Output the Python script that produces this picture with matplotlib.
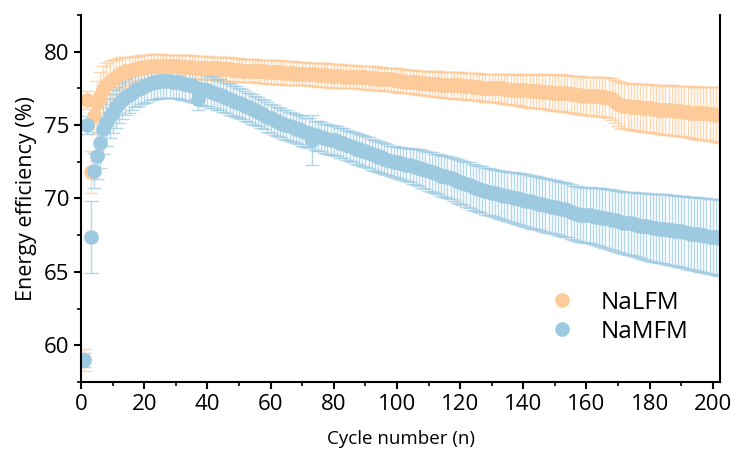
import numpy as np
import matplotlib
matplotlib.use("Agg")
import matplotlib.pyplot as plt
from matplotlib.ticker import MultipleLocator
from matplotlib.lines import Line2D

plt.rcParams['font.family'] = ['Open Sans', 'DejaVu Sans']

# cycle numbers
cycles = np.arange(1, 203)

# NaLFM energy efficiency (%) and error
nalfm = [
    59.0, 76.7, 71.8, 75.6, 76.5, 77.0, 77.4, 77.7, 77.95, 78.15,
    78.3, 78.45, 78.55, 78.65, 78.7, 78.75, 78.8, 78.85, 78.9, 78.95,
    78.95, 79.0, 79.0, 79.0, 79.0, 79.0, 79.0, 79.0, 79.0, 79.0,
    79.0, 78.95, 78.95, 78.95, 78.95, 78.9, 78.9, 78.9, 78.9, 78.9,
    78.85, 78.85, 78.85, 78.8, 78.8, 78.8, 78.8, 78.75, 78.75, 78.75,
    78.7, 78.7, 78.7, 78.7, 78.7, 78.65, 78.65, 78.65, 78.6, 78.6,
    78.6, 78.6, 78.6, 78.55, 78.55, 78.55, 78.55, 78.5, 78.5, 78.5,
    78.5, 78.45, 78.45, 78.45, 78.4, 78.4, 78.4, 78.4, 78.35, 78.35,
    78.35, 78.35, 78.3, 78.3, 78.3, 78.3, 78.3, 78.25, 78.25, 78.25,
    78.2, 78.2, 78.2, 78.15, 78.15, 78.1, 78.1, 78.1, 78.05, 78.05,
    78.0, 78.0, 77.95, 77.95, 77.9, 77.9, 77.85, 77.85, 77.85, 77.8,
    77.8, 77.8, 77.8, 77.75, 77.75, 77.75, 77.7, 77.7, 77.7, 77.7,
    77.65, 77.65, 77.65, 77.6, 77.6, 77.6, 77.55, 77.55, 77.55, 77.5,
    77.5, 77.5, 77.5, 77.45, 77.45, 77.4, 77.4, 77.4, 77.35, 77.35,
    77.35, 77.3, 77.3, 77.3, 77.3, 77.25, 77.25, 77.25, 77.2, 77.2,
    77.2, 77.2, 77.15, 77.15, 77.1, 77.1, 77.05, 77.05, 77.0, 77.0,
    77.0, 76.95, 76.95, 76.95, 76.9, 76.9, 76.85, 76.75, 76.6, 76.45,
    76.35, 76.3, 76.3, 76.25, 76.25, 76.2, 76.2, 76.15, 76.15, 76.15,
    76.1, 76.1, 76.05, 76.05, 76.0, 76.0, 76.0, 75.95, 75.95, 75.95,
    75.9, 75.9, 75.85, 75.85, 75.85, 75.8, 75.8, 75.8, 75.75, 75.75,
    75.7, 75.7,
]
nalfm_err = [
    0.75, 0.6, 1.4, 1.2, 1.5, 1.6, 1.6, 1.5, 1.4, 1.3,
    1.2, 1.1, 1.05, 1.0, 0.95, 0.9, 0.9, 0.85, 0.85, 0.85,
    0.85, 0.85, 0.85, 0.85, 0.85, 0.8, 0.8, 0.8, 0.8, 0.8,
    0.8, 0.8, 0.8, 0.8, 0.8, 0.8, 0.8, 0.8, 0.8, 0.8,
    0.8, 0.8, 0.8, 0.8, 0.8, 0.8, 0.8, 0.8, 0.8, 0.8,
    0.8, 0.8, 0.8, 0.8, 0.8, 0.8, 0.8, 0.8, 0.8, 0.8,
    0.8, 0.8, 0.8, 0.8, 0.8, 0.8, 0.8, 0.8, 0.8, 0.8,
    0.8, 0.8, 0.8, 0.8, 0.8, 0.8, 0.8, 0.8, 0.8, 0.8,
    0.8, 0.8, 0.8, 0.8, 0.8, 0.8, 0.8, 0.8, 0.8, 0.8,
    0.8, 0.8, 0.8, 0.8, 0.8, 0.8, 0.8, 0.8, 0.8, 0.8,
    0.8, 0.8, 0.8, 0.8, 0.82, 0.82, 0.82, 0.84, 0.84, 0.84,
    0.85, 0.86, 0.86, 0.87, 0.88, 0.88, 0.89, 0.9, 0.9, 0.9,
    0.91, 0.92, 0.92, 0.93, 0.93, 0.94, 0.94, 0.95, 0.95, 0.95,
    0.96, 0.97, 0.98, 1.0, 1.01, 1.03, 1.04, 1.06, 1.07, 1.09,
    1.1, 1.12, 1.13, 1.15, 1.16, 1.18, 1.19, 1.2, 1.21, 1.22,
    1.23, 1.24, 1.25, 1.25, 1.26, 1.27, 1.28, 1.28, 1.29, 1.3,
    1.3, 1.31, 1.32, 1.33, 1.34, 1.35, 1.38, 1.42, 1.47, 1.52,
    1.55, 1.56, 1.56, 1.57, 1.58, 1.59, 1.6, 1.61, 1.62, 1.63,
    1.64, 1.65, 1.66, 1.67, 1.68, 1.69, 1.7, 1.71, 1.72, 1.73,
    1.74, 1.75, 1.76, 1.77, 1.78, 1.8, 1.81, 1.82, 1.84, 1.85,
    1.87, 1.9,
]

# NaMFM energy efficiency (%) and error
namfm = [
    59.0, 75.0, 67.4, 71.9, 72.9, 73.8, 74.7, 75.2, 75.6, 75.9,
    76.2, 76.5, 76.7, 76.9, 77.05, 77.2, 77.35, 77.45, 77.55, 77.65,
    77.75, 77.85, 77.9, 77.95, 78.0, 78.0, 78.0, 78.0, 77.95, 77.95,
    77.9, 77.85, 77.8, 77.75, 77.7, 77.6, 76.8, 77.45, 77.4, 77.35,
    77.25, 77.2, 77.1, 77.05, 76.95, 76.85, 76.75, 76.65, 76.6, 76.5,
    76.4, 76.3, 76.2, 76.1, 76.0, 75.9, 75.8, 75.7, 75.55, 75.45,
    75.35, 75.25, 75.15, 75.05, 75.0, 74.9, 74.85, 74.75, 74.7, 74.6,
    74.5, 74.45, 74.0, 74.3, 74.25, 74.2, 74.1, 74.05, 74.0, 73.95,
    73.9, 73.8, 73.75, 73.65, 73.55, 73.5, 73.4, 73.35, 73.25, 73.2,
    73.1, 73.0, 72.95, 72.85, 72.8, 72.7, 72.65, 72.55, 72.5, 72.45,
    72.4, 72.35, 72.3, 72.25, 72.2, 72.15, 72.1, 72.0, 71.95, 71.85,
    71.8, 71.7, 71.65, 71.55, 71.5, 71.45, 71.4, 71.3, 71.2, 71.1,
    71.05, 70.95, 70.9, 70.8, 70.7, 70.65, 70.6, 70.5, 70.45, 70.4,
    70.35, 70.3, 70.25, 70.2, 70.15, 70.1, 70.05, 70.0, 69.95, 69.9,
    69.85, 69.8, 69.75, 69.7, 69.65, 69.6, 69.55, 69.5, 69.45, 69.4,
    69.35, 69.3, 69.25, 69.2, 69.1, 69.0, 68.95, 68.9, 68.9, 68.85,
    68.85, 68.8, 68.75, 68.75, 68.7, 68.65, 68.6, 68.55, 68.5, 68.45,
    68.4, 68.35, 68.3, 68.3, 68.25, 68.2, 68.15, 68.15, 68.1, 68.05,
    68.0, 68.0, 67.95, 67.95, 67.9, 67.85, 67.85, 67.8, 67.75, 67.75,
    67.7, 67.65, 67.6, 67.6, 67.55, 67.5, 67.5, 67.45, 67.4, 67.4,
    67.35, 67.3,
]
namfm_err = [
    0.5, 0.6, 2.45, 1.2, 1.6, 1.7, 1.7, 1.6, 1.5, 1.45,
    1.4, 1.35, 1.3, 1.25, 1.2, 1.2, 1.15, 1.15, 1.15, 1.15,
    1.15, 1.15, 1.15, 1.15, 1.15, 1.15, 1.15, 1.15, 1.12, 1.12,
    1.12, 1.12, 1.1, 1.1, 1.1, 1.1, 0.8, 1.1, 1.1, 1.08,
    1.08, 1.06, 1.06, 1.05, 1.05, 1.04, 1.04, 1.03, 1.03, 1.02,
    1.02, 1.01, 1.0, 1.0, 1.0, 1.0, 1.0, 1.0, 1.0, 1.0,
    1.0, 1.0, 1.0, 1.0, 1.0, 1.0, 1.0, 1.0, 1.0, 1.0,
    1.0, 1.0, 1.7, 1.0, 1.0, 1.0, 1.0, 1.0, 1.01, 1.01,
    1.02, 1.02, 1.02, 1.03, 1.03, 1.03, 1.04, 1.04, 1.04, 1.05,
    1.05, 1.05, 1.05, 1.05, 1.05, 1.05, 1.05, 1.05, 1.05, 1.05,
    1.08, 1.1, 1.13, 1.16, 1.19, 1.22, 1.25, 1.27, 1.29, 1.31,
    1.33, 1.35, 1.37, 1.39, 1.41, 1.43, 1.45, 1.47, 1.49, 1.5,
    1.52, 1.53, 1.55, 1.56, 1.57, 1.58, 1.59, 1.6, 1.6, 1.6,
    1.61, 1.62, 1.64, 1.66, 1.68, 1.7, 1.72, 1.74, 1.76, 1.78,
    1.79, 1.8, 1.8, 1.8, 1.81, 1.81, 1.82, 1.82, 1.83, 1.83,
    1.84, 1.84, 1.85, 1.85, 1.86, 1.86, 1.87, 1.87, 1.88, 1.88,
    1.9, 1.92, 1.94, 1.96, 1.98, 2.0, 2.02, 2.04, 2.06, 2.08,
    2.1, 2.12, 2.14, 2.16, 2.18, 2.2, 2.22, 2.24, 2.26, 2.28,
    2.3, 2.32, 2.34, 2.36, 2.38, 2.4, 2.41, 2.42, 2.44, 2.45,
    2.46, 2.48, 2.49, 2.5, 2.52, 2.53, 2.54, 2.55, 2.56, 2.57,
    2.58, 2.6,
]

orange = '#fdcb99'
blue = '#9ecae1'

fig = plt.figure(figsize=(7.31, 4.5), dpi=100)
ax = fig.add_axes([0.111, 0.151, 0.874, 0.816])

for y, e, c in [(nalfm, nalfm_err, orange), (namfm, namfm_err, blue)]:
    eb = ax.errorbar(cycles, y, yerr=e, fmt='o', ms=9.5, color=c, mec=c,
                     ecolor=c, elinewidth=1, capsize=5, capthick=1)
    for art in eb[1]:
        art.set_alpha(0.75)
    for art in eb[2]:
        art.set_alpha(0.75)

ax.set_xlim(0, 202.3)
ax.set_ylim(57.5, 82.5)
ax.xaxis.set_major_locator(MultipleLocator(20))
ax.xaxis.set_minor_locator(MultipleLocator(10))
ax.yaxis.set_major_locator(MultipleLocator(5))
ax.yaxis.set_minor_locator(MultipleLocator(2.5))
ax.tick_params(which='major', direction='out', length=5, width=1.5, labelsize=16)
ax.tick_params(which='minor', direction='out', length=3, width=1.2)
for s in ['left', 'right', 'bottom']:
    ax.spines[s].set_linewidth(1.5)
ax.spines['top'].set_visible(False)

ax.set_xlabel('Cycle number (n)', fontsize=13.5, labelpad=11)
ax.set_ylabel('Energy efficiency (%)', fontsize=15.5, labelpad=5)

handles = [Line2D([], [], ls='none', marker='o', ms=9.5, color=orange, label='NaLFM'),
           Line2D([], [], ls='none', marker='o', ms=9.5, color=blue, label='NaMFM')]
ax.legend(handles=handles, loc='lower right', bbox_to_anchor=(0.985, 0.045),
          frameon=False, fontsize=17.5, handletextpad=1.1, labelspacing=0.2,
          handlelength=1.0)

fig.savefig('out.png', dpi=100)
